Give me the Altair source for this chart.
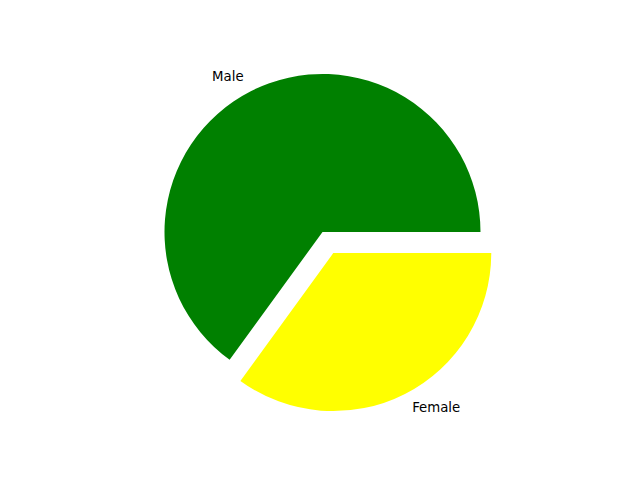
import math
import altair as alt
import pandas as pd

labels = ["Male", "Female"]
sizes = [65, 35]
colors = ["green", "yellow"]

R = 158
explode = 0.15
CX, CY = 314.5, 224
df = pd.DataFrame({"label": labels, "size": sizes, "color": colors})

base = (
    alt.Chart(df)
    .transform_joinaggregate(total="sum(size)")
    .transform_window(
        cum="sum(size)",
        sort=[alt.SortField("size", order="ascending")],
        frame=[None, 0],
    )
    .transform_calculate(
        start="(datum.cum - datum.size) / datum.total",
        end="datum.cum / datum.total",
        mid="(datum.cum - datum.size / 2) / datum.total",
    )
)

theta_scale = alt.Scale(domain=[0, 1], range=[math.pi / 2, math.pi / 2 + 2 * math.pi])

# explode offset for Female wedge (mid-angle ~297 deg in math coords)
fem_mid_deg = 360 - 0.35 * 360 / 2
dx = explode * R * math.cos(math.radians(fem_mid_deg))
dy = -explode * R * math.sin(math.radians(fem_mid_deg))

male = base.transform_filter("datum.label == 'Male'")
female = base.transform_filter("datum.label == 'Female'")

male_arc = male.mark_arc(outerRadius=R).encode(
    theta=alt.Theta("start:Q", scale=theta_scale),
    theta2="end:Q",
    fill=alt.Fill("color:N", scale=None),
    x=alt.value(CX),
    y=alt.value(CY),
)
female_arc = female.mark_arc(outerRadius=R, xOffset=dx, yOffset=dy).encode(
    theta=alt.Theta("start:Q", scale=theta_scale),
    theta2="end:Q",
    fill=alt.Fill("color:N", scale=None),
    x=alt.value(CX),
    y=alt.value(CY),
)

male_text = male.mark_text(
    align="right", baseline="middle", font="DejaVu Sans", fontSize=13.3, color="black"
).encode(
    theta=alt.Theta("mid:Q", scale=theta_scale),
    radius=alt.value(R * 1.1),
    text="label:N",
    x=alt.value(CX),
    y=alt.value(CY),
)
female_text = female.mark_text(
    align="left", baseline="middle", font="DejaVu Sans", fontSize=13.3, color="black",
    xOffset=dx, yOffset=dy,
).encode(
    theta=alt.Theta("mid:Q", scale=theta_scale),
    radius=alt.value(R * 1.1),
    text="label:N",
    x=alt.value(CX),
    y=alt.value(CY),
)

chart = (
    alt.layer(male_arc, female_arc, male_text, female_text)
    .properties(width=600, height=448, padding=0, autosize=alt.AutoSizeParams(type="none"))
    .configure_view(stroke=None)
)

chart.save("out.html", embed_options={"renderer": "svg", "actions": False})
